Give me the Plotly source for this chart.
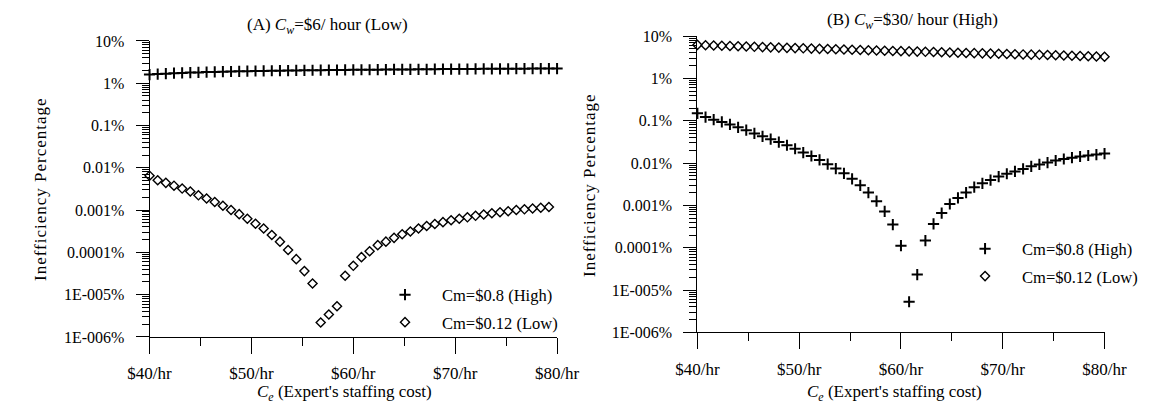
import plotly.graph_objects as go

# ---------------- data ----------------
x_full = [round(40 + 0.8 * i, 1) for i in range(51)]   # $40 .. $80 step 0.8
x_left_low = x_full[:50]                                # $40 .. $79.2

left_high = [1.60, 1.64, 1.68, 1.72, 1.75, 1.78, 1.80, 1.83, 1.85, 1.87,
             1.89, 1.91, 1.92, 1.94, 1.95, 1.97, 1.98, 1.99, 2.00, 2.01,
             2.02, 2.03, 2.04, 2.05, 2.06, 2.07, 2.08, 2.08, 2.09, 2.10,
             2.11, 2.11, 2.12, 2.13, 2.13, 2.14, 2.15, 2.15, 2.16, 2.16,
             2.17, 2.18, 2.18, 2.19, 2.19, 2.20, 2.20, 2.21, 2.21, 2.22, 2.22]

left_low = [0.0065, 0.00505, 0.0044, 0.00377, 0.00322, 0.00275, 0.00223, 0.00187, 0.00155, 0.00126,
            0.0010, 0.0008, 0.000625, 0.000474, 0.000365, 0.000257, 0.000179, 0.000114, 6.9e-5, 3.6e-5,
            1.83e-5, 2.2e-6, 3.4e-6, 5.3e-6, 2.8e-5, 4.8e-5, 7.7e-5, 0.000106, 0.000148, 0.000179,
            0.00022, 0.000267, 0.000312, 0.000365, 0.00042, 0.000467, 0.000518, 0.000575, 0.000625, 0.000673,
            0.00073, 0.000787, 0.00084, 0.00089, 0.00094, 0.0010, 0.00104, 0.00109, 0.00113, 0.00118]

right_high = [0.150, 0.122, 0.106, 0.094, 0.082, 0.070, 0.060, 0.0502, 0.043, 0.0367,
              0.0314, 0.0264, 0.0218, 0.0177, 0.0147, 0.0119, 0.00944, 0.00743, 0.00572, 0.00425,
              0.00299, 0.00201, 0.00126, 0.00072, 0.000352, 0.000112, 5.3e-6, 2.33e-5, 0.000148, 0.000365,
              0.00066, 0.00108, 0.0015, 0.00201, 0.0027, 0.00333, 0.00397, 0.00479, 0.0056, 0.00635,
              0.00728, 0.00838, 0.0093, 0.0103, 0.0115, 0.0125, 0.0134, 0.0143, 0.0151, 0.0159, 0.0168]

right_low = [6.2, 6.1, 6.0, 5.9, 5.82, 5.74, 5.66, 5.58, 5.5, 5.42,
             5.35, 5.28, 5.21, 5.14, 5.07, 5.0, 4.94, 4.88, 4.82, 4.76,
             4.7, 4.64, 4.58, 4.52, 4.46, 4.41, 4.36, 4.3, 4.25, 4.2,
             4.15, 4.1, 4.05, 4.0, 3.96, 3.91, 3.86, 3.82, 3.78, 3.73,
             3.69, 3.65, 3.61, 3.57, 3.53, 3.48, 3.44, 3.39, 3.35, 3.30, 3.25]

x_tickvals = [40, 50, 60, 70, 80]
x_ticktext = ["$40/hr", "$50/hr", "$60/hr", "$70/hr", "$80/hr"]
x_minorvals = [45, 55, 65, 75]
y_tickvals = [1e-6, 1e-5, 1e-4, 1e-3, 1e-2, 1e-1, 1, 10]
y_ticktext = ["1E-006%", "1E-005%", "0.0001%", "0.001%", "0.01%", "0.1%", "1%", "10%"]

name_high = "Cm=$0.8 (High)"
name_low = "Cm=$0.12 (Low)"

FONT = "Liberation Serif, Times New Roman, Times, serif"
W, H = 1158, 414

cross = dict(symbol="cross-thin", size=8, color="black", line=dict(width=2, color="black"))
diam = dict(symbol="diamond-open", size=7, color="black", line=dict(width=1.4, color="black"))

fig = go.Figure()
fig.add_trace(go.Scatter(x=x_full, y=left_high, mode="markers", marker=cross, name=name_high,
                         xaxis="x", yaxis="y", legend="legend", legendgroup="a1", cliponaxis=False))
fig.add_trace(go.Scatter(x=x_left_low, y=left_low, mode="markers", marker=diam, name=name_low,
                         xaxis="x", yaxis="y", legend="legend", legendgroup="a2", cliponaxis=False))
fig.add_trace(go.Scatter(x=x_full, y=right_high, mode="markers", marker=cross, name=name_high,
                         xaxis="x2", yaxis="y2", legend="legend2", legendgroup="b1", cliponaxis=False))
fig.add_trace(go.Scatter(x=x_full, y=right_low, mode="markers", marker=diam, name=name_low,
                         xaxis="x2", yaxis="y2", legend="legend2", legendgroup="b2", cliponaxis=False))


def xaxis_cfg(domain, anchor):
    return dict(domain=domain, anchor=anchor, range=[40, 80], showgrid=False, zeroline=False,
                showline=True, linecolor="black", linewidth=1,
                tickmode="array", tickvals=x_tickvals, ticktext=x_ticktext,
                ticks="outside", ticklen=16, tickwidth=1, tickcolor="black",
                ticklabelstandoff=5,
                minor=dict(tickmode="array", tickvals=x_minorvals, ticks="outside",
                           ticklen=8, tickwidth=1, tickcolor="black", showgrid=False),
                tickfont=dict(family=FONT, size=17, color="black"))


def yaxis_cfg(domain, anchor):
    return dict(domain=domain, anchor=anchor, type="log", range=[-6, 1], showgrid=False,
                zeroline=False, showline=True, linecolor="black", linewidth=1,
                tickmode="array", tickvals=y_tickvals, ticktext=y_ticktext,
                ticks="outside", ticklen=13, tickwidth=1, tickcolor="black",
                ticklabelstandoff=8,
                minor=dict(ticks="outside", dtick="D1", ticklen=7, tickwidth=1,
                           tickcolor="black", showgrid=False),
                tickfont=dict(family=FONT, size=16, color="black"))


L0, L1 = 132.7 / W, 556.7 / W
R0, R1 = 702.7 / W, 1126.3 / W
yl = [(H - 343) / H, (H - 34.3) / H]
yr = [(H - 338.3) / H, (H - 29.3) / H]

legend_common = dict(font=dict(family=FONT, size=16.5, color="black"), bgcolor="rgba(0,0,0,0)",
                     borderwidth=0, itemwidth=64, xanchor="left", yanchor="top",
                     traceorder="grouped", tracegroupgap=3)

fig.update_layout(
    width=W, height=H, margin=dict(l=0, r=0, t=0, b=0),
    paper_bgcolor="white", plot_bgcolor="white",
    font=dict(family=FONT, size=16, color="black"),
    xaxis=xaxis_cfg([L0, L1], "y"),
    yaxis=yaxis_cfg(yl, "x"),
    xaxis2=xaxis_cfg([R0, R1], "y2"),
    yaxis2=yaxis_cfg(yr, "x2"),
    legend=dict(x=360 / W, y=(H - 281) / H, **legend_common),
    legend2=dict(x=963.5 / W, y=(H - 233) / H, **legend_common),
    showlegend=True,
)

annotations = [
    dict(text="(A) <i>C</i><sub><i>w</i></sub>=$6/ hour (Low)", x=318 / W, y=(H - 19) / H),
    dict(text="(B) <i>C</i><sub><i>w</i></sub>=$30/ hour (High)", x=927 / W, y=(H - 14) / H),
    dict(text="<i>C</i><sub><i>e</i></sub> (Expert's staffing cost)", x=336 / W, y=(H - 402) / H),
    dict(text="<i>C</i><sub><i>e</i></sub> (Expert's staffing cost)", x=908 / W, y=(H - 402) / H),
    dict(text="Inefficiency Percentage", x=19 / W, y=(H - 189) / H, textangle=-90),
    dict(text="Inefficiency Percentage", x=590 / W, y=(H - 185) / H, textangle=-90),
]
for a in annotations:
    a.update(xref="paper", yref="paper", showarrow=False, xanchor="center", yanchor="middle",
             font=dict(family=FONT, size=17, color="black"))
fig.update_layout(annotations=annotations)

post = """
document.body.style.margin='0';
document.body.style.overflow='hidden';
var gd = document.getElementById('{plot_id}');
function spaceTitles(){
  gd.querySelectorAll('.annotation-text').forEach(function(t){
    if(t.textContent.indexOf('Inefficiency') === 0){ t.style.letterSpacing = '1px'; }
  });
}
spaceTitles();
gd.on('plotly_afterplot', spaceTitles);
"""

fig.write_html("out.html", config={"displayModeBar": False}, post_script=post)
